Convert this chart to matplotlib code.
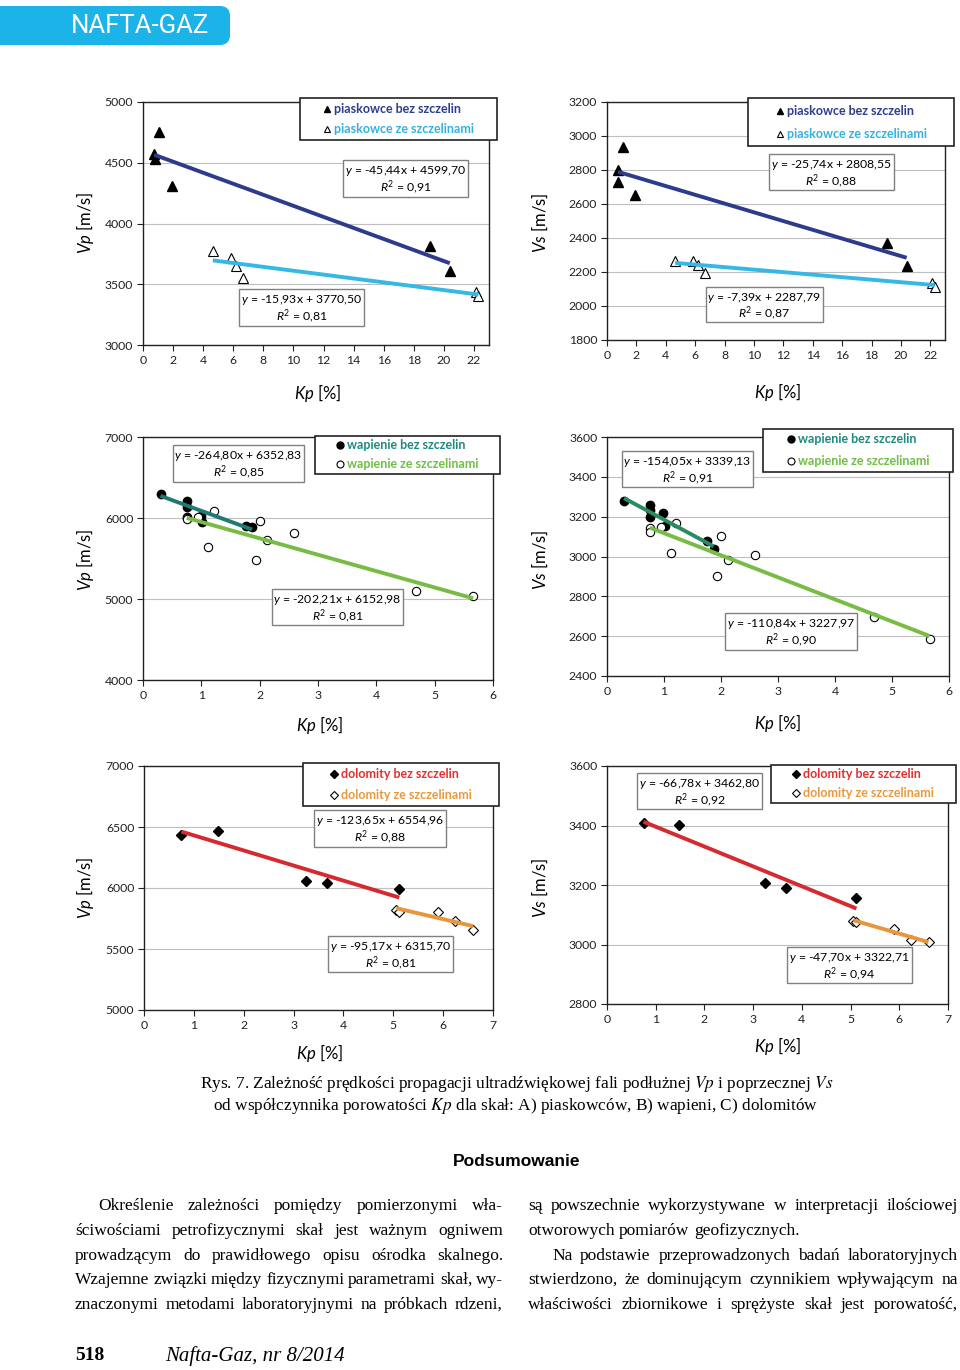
import numpy as np
import matplotlib.pyplot as plt
from matplotlib.patches import Rectangle, FancyBboxPatch

plt.rcParams['font.family'] = ['Lato', 'DejaVu Sans']
plt.rcParams['mathtext.fontset'] = 'custom'
plt.rcParams['mathtext.rm'] = 'Lato'
plt.rcParams['mathtext.it'] = 'Lato:italic'
plt.rcParams['mathtext.bf'] = 'Lato:bold'

# A) piaskowce
kp_pias_bez = [0.75, 0.78, 1.07, 1.91, 19.06, 20.39]
vp_pias_bez = [4576, 4527, 4755, 4312, 3812, 3605]
vs_pias_bez = [2799, 2728, 2935, 2651, 2368, 2238]
kp_pias_ze = [4.64, 5.88, 6.21, 6.67, 22.14, 22.3]
vp_pias_ze = [3776, 3716, 3652, 3550, 3435, 3400]
vs_pias_ze = [2266, 2266, 2242, 2195, 2138, 2110]

# B) wapienie
kp_wap_bez = [0.30, 0.75, 0.75, 0.75, 0.99, 1.01, 1.76, 1.87]
vp_wap_bez = [6298, 6204, 6134, 6010, 6030, 5950, 5905, 5888]
vs_wap_bez = [3278, 3260, 3235, 3200, 3218, 3151, 3077, 3040]
kp_wap_ze = [0.75, 0.76, 0.95, 1.12, 1.21, 1.93, 2.0, 2.13, 2.59, 4.68, 5.66]
vp_wap_ze = [6000, 5990, 6010, 5645, 6089, 5486, 5960, 5725, 5811, 5096, 5038]
vs_wap_ze = [3143, 3123, 3147, 3017, 3168, 2904, 3102, 2980, 3008, 2697, 2584]

# C) dolomity
kp_dol_bez = [0.75, 1.48, 3.25, 3.67, 5.12]
vp_dol_bez = [6434, 6467, 6060, 6044, 5995]
vs_dol_bez = [3407, 3402, 3208, 3189, 3155]
kp_dol_ze = [5.06, 5.11, 5.90, 6.24, 6.60]
vp_dol_ze = [5820, 5803, 5801, 5730, 5653]
vs_dol_ze = [3080, 3076, 3052, 3016, 3007]

# trend line coefficients (slope, intercept) and R2
fit_vp_pias = [[-45.44, 4599.70], [-15.93, 3770.50]]
fit_vs_pias = [[-25.74, 2808.55], [-7.39, 2287.79]]
fit_vp_wap = [[-264.80, 6352.83], [-202.21, 6152.98]]
fit_vs_wap = [[-154.05, 3339.13], [-110.84, 3227.97]]
fit_vp_dol = [[-123.65, 6554.96], [-95.17, 6315.70]]
fit_vs_dol = [[-66.78, 3462.80], [-47.70, 3322.71]]
r2_vp_pias = ['0,91', '0,81']
r2_vs_pias = ['0,88', '0,87']
r2_vp_wap = ['0,85', '0,81']
r2_vs_wap = ['0,91', '0,90']
r2_vp_dol = ['0,88', '0,81']
r2_vs_dol = ['0,92', '0,94']

W, H = 960, 1370
fig = plt.figure(figsize=(W / 100, H / 100), dpi=100)


def px_axes(x0, y0, x1, y1):
    return fig.add_axes([x0 / W, 1 - y1 / H, (x1 - x0) / W, (y1 - y0) / H])


def panel(box, xa, ya, xb, yb, ca, cb, mk, ms, fits, xlim, xticks, ylim, yticks):
    ax = px_axes(*box)
    ax.plot(xa, ya, ls='none', marker=mk, ms=ms, color='black', zorder=3)
    ax.plot(xb, yb, ls='none', marker=mk, ms=ms, mfc='white', mec='black', mew=0.8, zorder=3)
    for xs, f, c in [(xa, fits[0], ca), (xb, fits[1], cb)]:
        xx = np.array([min(xs), max(xs)])
        ax.plot(xx, np.polyval(f, xx), color=c, lw=2.8, zorder=4, solid_capstyle='butt')
    ax.set_xlim(xlim)
    ax.set_ylim(ylim)
    ax.set_xticks(xticks)
    ax.set_yticks(yticks)
    ax.yaxis.grid(True, color='#bfbfbf', lw=0.8)
    ax.set_axisbelow(True)
    ax.tick_params(direction='out', length=4, width=0.8, labelsize=8.8, colors='#222222', pad=3)
    for s in ax.spines.values():
        s.set_color('#222222')
        s.set_linewidth(1.0)
    return ax


# A
panel((143, 102, 489, 345), kp_pias_bez, vp_pias_bez, kp_pias_ze, vp_pias_ze,
      '#2e3a8c', '#35b8e4', '^', 6.5, fit_vp_pias, (0, 23), range(0, 23, 2), (3000, 5000), range(3000, 5001, 500))
panel((607, 102, 945, 340), kp_pias_bez, vs_pias_bez, kp_pias_ze, vs_pias_ze,
      '#2e3a8c', '#35b8e4', '^', 6.5, fit_vs_pias, (0, 23), range(0, 23, 2), (1800, 3200), range(1800, 3201, 200))
# B
panel((143, 437, 493, 680), kp_wap_bez, vp_wap_bez, kp_wap_ze, vp_wap_ze,
      '#1e7a72', '#78bc45', 'o', 6, fit_vp_wap, (0, 6), range(0, 7), (4000, 7000), range(4000, 7001, 1000))
panel((607, 437, 949, 676), kp_wap_bez, vs_wap_bez, kp_wap_ze, vs_wap_ze,
      '#2a8a60', '#78bc45', 'o', 6, fit_vs_wap, (0, 6), range(0, 7), (2400, 3600), range(2400, 3601, 200))
# C
panel((144, 766, 493, 1010), kp_dol_bez, vp_dol_bez, kp_dol_ze, vp_dol_ze,
      '#d52a2f', '#e8953c', 'D', 5, fit_vp_dol, (0, 7), range(0, 8), (5000, 7000), range(5000, 7001, 500))
panel((607, 766, 948, 1004), kp_dol_bez, vs_dol_bez, kp_dol_ze, vs_dol_ze,
      '#d52a2f', '#e8953c', 'D', 5, fit_vs_dol, (0, 7), range(0, 8), (2800, 3600), range(2800, 3601, 200))

# overlay in pixel coordinates
ov = fig.add_axes([0, 0, 1, 1])
ov.set_xlim(0, W)
ov.set_ylim(H, 0)
ov.axis('off')


def eq_box(x0, y0, x1, y1, fit, r2):
    ov.add_patch(Rectangle((x0, y0), x1 - x0, y1 - y0, fc='white', ec='#808080', lw=1, zorder=5))
    a, b = fit
    s = '$y$ = %sx + %s' % (('%.2f' % a).replace('.', ','), ('%.2f' % b).replace('.', ','))
    cx = (x0 + x1) / 2
    ov.text(cx, y0 + (y1 - y0) * 0.3, s, ha='center', va='center', fontsize=8.8, zorder=6)
    ov.text(cx, y0 + (y1 - y0) * 0.74, '$R^2$ = ' + r2, ha='center', va='center', fontsize=8.8, zorder=6)


def leg_box(x0, y0, x1, y1, mx, ys, mk, ms, labels, colors):
    ov.add_patch(Rectangle((x0, y0), x1 - x0, y1 - y0, fc='white', ec='#222222', lw=1.2, zorder=5))
    ov.plot([mx], [ys[0]], marker=mk, ms=ms, color='black', zorder=6)
    ov.plot([mx], [ys[1]], marker=mk, ms=ms, mfc='white', mec='black', mew=0.8, zorder=6)
    for y, lab, c in zip(ys, labels, colors):
        ov.text(mx + 7, y, lab, ha='left', va='center', fontsize=9, fontweight='bold', color=c, zorder=6)


lab_p = ['piaskowce bez szczelin', 'piaskowce ze szczelinami']
col_p = ['#2e3d8e', '#33b2e0']
lab_w = ['wapienie bez szczelin', 'wapienie ze szczelinami']
col_w = ['#1e8a7e', '#6fbf44']
lab_d = ['dolomity bez szczelin', 'dolomity ze szczelinami']
col_d = ['#e03131', '#e89a3c']

leg_box(300, 98, 497, 140, 327, (109, 129), '^', 5, lab_p, col_p)
eq_box(343, 160, 468, 197, fit_vp_pias[0], r2_vp_pias[0])
eq_box(239, 289, 364, 326, fit_vp_pias[1], r2_vp_pias[1])

leg_box(748, 98, 954, 146, 780, (111, 134), '^', 5, lab_p, col_p)
eq_box(769, 154, 894, 190, fit_vs_pias[0], r2_vs_pias[0])
eq_box(706, 287, 823, 322, fit_vs_pias[1], r2_vs_pias[1])

leg_box(315, 436, 500, 474, 340, (445, 464), 'o', 5, lab_w, col_w)
eq_box(173, 445, 304, 482, fit_vp_wap[0], r2_vp_wap[0])
eq_box(272, 589, 403, 625, fit_vp_wap[1], r2_vp_wap[1])

leg_box(763, 429, 953, 472, 791, (439, 461), 'o', 5, lab_w, col_w)
eq_box(622, 451, 753, 487, fit_vs_wap[0], r2_vs_wap[0])
eq_box(725, 613, 857, 650, fit_vs_wap[1], r2_vs_wap[1])

leg_box(303, 763, 499, 806, 334, (774, 795), 'D', 4, lab_d, col_d)
eq_box(314, 810, 446, 847, fit_vp_dol[0], r2_vp_dol[0])
eq_box(328, 936, 453, 972, fit_vp_dol[1], r2_vp_dol[1])

leg_box(771, 765, 956, 803, 796, (774, 793), 'D', 4, lab_d, col_d)
eq_box(637, 773, 762, 809, fit_vs_dol[0], r2_vs_dol[0])
eq_box(787, 947, 912, 983, fit_vs_dol[1], r2_vs_dol[1])

# axis labels
for x, y, s in [(85, 223, '$Vp$ [m/s]'), (540, 223, '$Vs$ [m/s]'),
                (85, 560, '$Vp$ [m/s]'), (540, 560, '$Vs$ [m/s]'),
                (85, 888, '$Vp$ [m/s]'), (540, 888, '$Vs$ [m/s]')]:
    ov.text(x, y, s, rotation=90, ha='center', va='center', fontsize=12)
for x, y, s in [(318, 393, '$Kp$ [%]'), (778, 392, '$Kp$ [%]'),
                (320, 725, '$Kp$ [%]'), (778, 723, '$Kp$ [%]'),
                (320, 1053, '$Kp$ [%]'), (778, 1046, '$Kp$ [%]')]:
    ov.text(x, y, s, ha='center', va='center', fontsize=12)

# header
ov.add_patch(FancyBboxPatch((-20, 6), 250, 39, boxstyle='round,pad=0,rounding_size=10',
                            fc='#1cb4e8', ec='none'))
ov.text(140, 26, 'NAFTA-GAZ', ha='center', va='center', fontsize=18.5, color='white',
        family=['Roboto', 'DejaVu Sans'])

# caption
serif = ['Liberation Serif', 'DejaVu Serif']
ov.text(517, 1084, 'Rys. 7. Zależność prędkości propagacji ultradźwiękowej fali podłużnej $Vp$ i poprzecznej $Vs$',
        ha='center', va='center', fontsize=12.4, family=serif, math_fontfamily='stix')
ov.text(516, 1106, 'od współczynnika porowatości $Kp$ dla skał: A) piaskowców, B) wapieni, C) dolomitów',
        ha='center', va='center', fontsize=12.4, family=serif, math_fontfamily='stix')
ov.text(517, 1162, 'Podsumowanie', ha='center', va='center', fontsize=12.5, fontweight='bold',
        family=['Liberation Sans', 'DejaVu Sans'])

renderer = fig.canvas.get_renderer()


def put_line(s, x0, x1, y, justify=True):
    words = s.split()
    ts = [ov.text(0, y, w, ha='left', va='center', fontsize=12.5, family=serif) for w in words]
    ws = [t.get_window_extent(renderer).width for t in ts]
    gap = (x1 - x0 - sum(ws)) / (len(words) - 1) if justify else 4.5
    x = x0
    for t, w in zip(ts, ws):
        t.set_x(x)
        x += w + gap


left_lines = ['Określenie zależności pomiędzy pomierzonymi wła-',
              'ściwościami petrofizycznymi skał jest ważnym ogniwem',
              'prowadzącym do prawidłowego opisu ośrodka skalnego.',
              'Wzajemne związki między fizycznymi parametrami skał, wy-',
              'znaczonymi metodami laboratoryjnymi na próbkach rdzeni,']
right_lines = ['są powszechnie wykorzystywane w interpretacji ilościowej',
               'otworowych pomiarów geofizycznych.',
               'Na podstawie przeprowadzonych badań laboratoryjnych',
               'stwierdzono, że dominującym czynnikiem wpływającym na',
               'właściwości zbiornikowe i sprężyste skał jest porowatość,']
ys = [1206, 1231, 1256, 1280, 1305]
for i, (s, y) in enumerate(zip(left_lines, ys)):
    put_line(s, 98 if i == 0 else 75, 503, y)
for i, (s, y) in enumerate(zip(right_lines, ys)):
    put_line(s, 552 if i == 2 else 528, 958, y, justify=(i != 1))

# footer
ov.text(75, 1356, '518', ha='left', va='center', fontsize=14, fontweight='bold', family=serif)
ov.text(165, 1356, 'Nafta-Gaz, nr 8/2014', ha='left', va='center', fontsize=15, style='italic', family=serif)

fig.savefig('out.png', dpi=100)
